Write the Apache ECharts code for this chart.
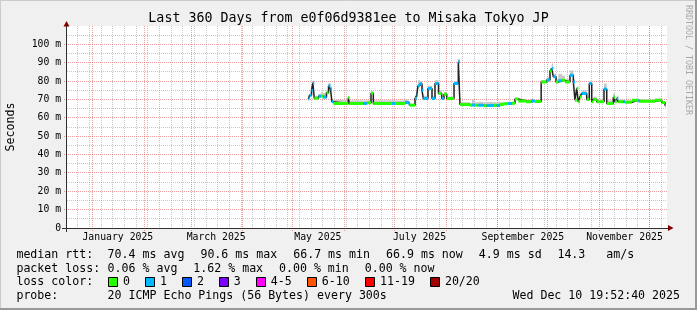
<!DOCTYPE html>
<html><head><meta charset="utf-8">
<script src="https://cdn.jsdelivr.net/npm/echarts@6/dist/echarts.min.js"></script>
<style>html,body{margin:0;padding:0;background:#f0f0f0}#c{width:697px;height:310px}</style>
</head><body><div id="c"></div>
<script>
// ---------- data ----------
const chartTitle = 'Last 360 Days from e0f06d9381ee to Misaka Tokyo JP';
const axisStart = '2024-12-16 12:00';
const axisEnd = '2025-12-11 12:00';
const dataEnd = '2025-12-10 19:52';

// start time of each median step (UTC)
const times = [
  '2025-05-10 07:00','2025-05-11 00:00','2025-05-12 05:00','2025-05-13 00:00','2025-05-13 21:00',
  '2025-05-16 10:00','2025-05-17 22:00','2025-05-19 07:00','2025-05-21 05:00','2025-05-22 10:00',
  '2025-05-23 14:00','2025-05-24 12:00','2025-05-25 10:00','2025-06-03 07:00','2025-06-03 21:00',
  '2025-06-12 07:00','2025-06-14 08:00','2025-06-16 22:00','2025-06-18 07:00','2025-06-29 12:00',
  '2025-07-01 07:00','2025-07-07 07:00','2025-07-09 10:00','2025-07-10 07:00','2025-07-13 07:00',
  '2025-07-14 08:00','2025-07-15 02:00','2025-07-16 07:00','2025-07-17 12:00','2025-07-18 07:00',
  '2025-07-21 02:00','2025-07-23 12:00','2025-07-25 07:00','2025-07-27 10:00','2025-07-29 08:00',
  '2025-07-30 17:00','2025-08-01 08:00','2025-08-05 17:00','2025-08-08 07:00','2025-08-09 07:00',
  '2025-08-15 07:00','2025-08-16 12:00','2025-08-18 07:00','2025-08-20 07:00','2025-08-23 07:00',
  '2025-08-25 08:00','2025-08-29 07:00','2025-08-31 08:00','2025-09-02 07:00','2025-09-04 07:00',
  '2025-09-07 02:00','2025-09-09 12:00','2025-09-11 07:00','2025-09-13 07:00','2025-09-17 22:00',
  '2025-09-20 22:00','2025-09-23 07:00','2025-09-27 00:00','2025-09-30 08:00','2025-10-02 07:00',
  '2025-10-03 08:00','2025-10-04 07:00','2025-10-05 22:00','2025-10-07 07:00','2025-10-09 12:00',
  '2025-10-11 07:00','2025-10-14 07:00','2025-10-16 07:00','2025-10-17 07:00','2025-10-18 08:00',
  '2025-10-19 07:00','2025-10-20 07:00','2025-10-21 08:00','2025-10-24 08:00','2025-10-25 21:00',
  '2025-10-27 08:00','2025-10-28 07:00','2025-10-30 08:00','2025-11-03 17:00','2025-11-05 08:00',
  '2025-11-09 07:00','2025-11-10 07:00','2025-11-11 08:00','2025-11-12 07:00','2025-11-15 07:00',
  '2025-11-16 07:00','2025-11-20 08:00','2025-11-24 07:00','2025-11-25 07:00','2025-11-29 08:00',
  '2025-12-04 07:00','2025-12-08 08:00','2025-12-10 07:00'
];
// median rtt (ms)
const median = [
  70.2,72.3,75.0,79.0,70.6, 71.8,71.8,71.2,73.6,77.5, 75.5,68.7,67.8,71.0,67.8,
  67.8,68.2,73.4,67.8,67.8, 67.8,68.4,67.5,66.9,70.5, 72.3,77.4,78.5,75.0,70.5,
  76.0,70.5,78.7,73.3,70.5, 72.8,70.5,78.7,90.6,67.3, 66.8,67.0,66.8,66.8,66.6,
  66.7,66.9,66.7,67.2,67.6, 67.8,67.9,70.2,69.2,68.7, 69.2,68.9,79.5,80.6,85.5,
  86.8,82.3,79.5,80.2,80.4, 79.5,83.2,79.5,69.6,76.0, 68.7,71.4,73.3,70.0,78.7,
  68.7,70.0,68.7,75.7,67.8, 71.4,68.7,70.5,68.7,68.7, 68.5,69.5,69.2,69.0,69.0,
  69.5,68.3,66.9
];
// packet-loss bucket index (0 = 0 lost, 1 = 1 lost, ...)
const lossBucket = [
  1,1,1,1,0, 1,0,1,0,1, 1,1,0,0,0,
  1,0,0,0,1, 0,1,1,0,1, 1,1,1,1,1,
  1,1,1,0,1, 0,0,1,1,0, 0,1,0,1,0,
  1,0,1,0,0, 1,0,0,0,0, 1,0,0,1,0,
  1,1,0,1,0, 0,1,1,0,0, 0,0,1,0,1,
  0,0,0,1,0, 0,0,1,0,1, 0,0,1,0,0,
  0,0,1
];
// top of the smoke (ms)
const smokeTop = [
  71.0,73.0,77.0,80.0,72.0, 73.0,74.0,73.5,75.0,79.0, 77.0,70.0,69.8,72.0,69.5,
  69.5,69.5,74.5,69.5,69.5, 69.5,70.0,69.0,67.8,72.0, 75.0,80.5,80.0,77.0,72.0,
  77.5,72.0,80.5,75.0,72.0, 74.0,71.5,80.0,92.0,68.5, 68.0,69.7,68.5,68.7,68.5,
  68.7,68.5,68.7,68.5,68.5, 68.7,68.5,70.8,70.0,69.5, 70.0,69.5,80.5,82.0,87.0,
  89.5,84.0,81.0,84.0,83.0, 81.0,85.8,81.0,71.0,77.0, 70.0,73.0,75.0,71.5,80.0,
  70.0,71.5,70.0,78.7,69.5, 73.3,70.0,72.0,70.0,70.0, 69.5,70.0,70.0,70.0,70.0,
  70.5,69.0,68.0
];

const lossLabels = ['0','1','2','3','4-5','6-10','11-19','20/20'];
const lossColors = ['#26ff00','#00b8ff','#0059ff','#7e00ff','#ff00ff','#ff5500','#ff0000','#a00000'];

const yMajor = [0,10,20,30,40,50,60,70,80,90,100];
const yMinor = [5,15,25,35,45,55,65,75,85,95,105];
const yMax = 110;
const monthStarts = ['2025-01-01','2025-02-01','2025-03-01','2025-04-01','2025-05-01','2025-06-01',
  '2025-07-01','2025-08-01','2025-09-01','2025-10-01','2025-11-01','2025-12-01'];
const monthLabelAt = ['2025-01-16','2025-03-16','2025-05-16','2025-07-16','2025-09-16','2025-11-16'];
const monthLabels = ['January 2025','March 2025','May 2025','July 2025','September 2025','November 2025'];
const firstWeek = '2024-12-23';

const statsRtt = ['median rtt:','70.4 ms avg','90.6 ms max','66.7 ms min','66.9 ms now','4.9 ms sd','14.3   am/s'];
const statsLoss = ['packet loss:','0.06 % avg','1.62 % max','0.00 % min','0.00 % now'];
const probeText = ['probe:','20 ICMP Echo Pings (56 Bytes) every 300s'];
const stampText = 'Wed Dec 10 19:52:40 2025';

// ---------- helpers ----------
function T(s){
  const [d, hm='00:00'] = s.split(' ');
  const [Y,M,D] = d.split('-').map(Number);
  const [h,m] = hm.split(':').map(Number);
  return Date.UTC(Y, M-1, D, h, m);
}
const DAY = 86400000;
const tArr = times.map(T);
const tEnd = T(dataEnd);
const t0 = T(axisStart), t1 = T(axisEnd);
const nextT = i => (i + 1 < tArr.length ? tArr[i+1] : tEnd);
const weekVals = [];
for (let t = T(firstWeek); t < t1; t += 7*DAY) weekVals.push(t);

const MONO = "'DejaVu Sans Mono', monospace";
const MGRID = 'rgba(222,80,80,0.55)';
const GRID = 'rgba(143,143,143,0.5)';

// grid lines drawn through the axes' scales
function vGrid(vals, color, ext, z) {
  return {type:'custom', coordinateSystem:'cartesian2d', silent:true, z, clip:false,
    data: vals.map(v => [v, 0]), encode:{x:0, y:1},
    renderItem: (params, api) => {
      const cs = params.coordSys;
      const x = Math.floor(api.coord([api.value(0), 0])[0]) + 0.5;
      return {type:'line', shape:{x1:x, y1:cs.y, x2:x, y2:cs.y + cs.height + ext},
        style:{stroke:color, lineWidth:1, lineDash:[1,1]}};
    }};
}
function hGrid(vals, color, ext, z) {
  return {type:'custom', coordinateSystem:'cartesian2d', silent:true, z, clip:false,
    data: vals.map(v => [t0, v]), encode:{x:0, y:1},
    renderItem: (params, api) => {
      const cs = params.coordSys;
      const y = Math.floor(api.coord([t0, api.value(1)])[1]) + 0.5;
      return {type:'line', shape:{x1:cs.x - ext, y1:y, x2:cs.x + cs.width, y2:y},
        style:{stroke:color, lineWidth:1, lineDash:[1,1]}};
    }};
}

// series
const lastM = median[median.length-1];
const smokeRects = tArr.map((t,i)=>[t, nextT(i), median[i]-0.4, smokeTop[i]]);
const medLine = tArr.map((t,i)=>[t, median[i]]).concat([[tEnd, lastM]]);

const series = [
  vGrid(weekVals, GRID, 0, 0),
  hGrid(yMinor, GRID, 0, 0),
  vGrid(monthStarts.map(T), MGRID, 3, 1),
  hGrid(yMajor, MGRID, 3, 1),
  {type:'custom', name:'smoke', coordinateSystem:'cartesian2d', silent:true, z:2,
   data:smokeRects, encode:{x:[0,1], y:[2,3]},
   renderItem: (params, api) => {
     const a = api.coord([api.value(0), api.value(3)]);
     const b = api.coord([api.value(1), api.value(2)]);
     return {type:'rect', shape:{x:a[0], y:a[1], width:b[0]-a[0], height:b[1]-a[1]},
       style:{fill:'#c9c9c9'}};
   }},
  {type:'line', name:'median', step:'end', data:medLine, symbol:'none', silent:true,
   lineStyle:{color:'#202020', width:1.5}, z:3}
];
lossColors.forEach((c, b) => {
  const d = [];
  for (let i = 0; i < tArr.length; i++) {
    if (lossBucket[i] === b) {
      d.push([tArr[i], median[i]], [nextT(i), median[i]], [nextT(i), null]);
    }
  }
  if (d.length) series.push({type:'line', name:lossLabels[b], data:d, symbol:'none', silent:true,
    connectNulls:false, lineStyle:{color:c, width:3, cap:'butt'}, z:4});
});

// graphic texts
const g = [];
const txt = (x, y, text, opt={}) => g.push({type:'text', x, y, silent:true, rotation: opt.rot||0, z:20,
  style:{text, font:(opt.size||11.6)+'px '+MONO, fill:opt.fill||'#000', align:opt.align||'left', verticalAlign:'middle'}});
// frame
g.push({type:'line', shape:{x1:0,y1:0.5,x2:697,y2:0.5}, style:{stroke:'#cbcbcb', lineWidth:1}, silent:true});
g.push({type:'line', shape:{x1:0.5,y1:0,x2:0.5,y2:310}, style:{stroke:'#cbcbcb', lineWidth:1}, silent:true});
g.push({type:'rect', shape:{x:695,y:0,width:2,height:310}, style:{fill:'#999999'}, silent:true});
g.push({type:'rect', shape:{x:0,y:308,width:697,height:2}, style:{fill:'#999999'}, silent:true});
// arrows & axis lines
g.push({type:'polygon', shape:{points:[[63.5,26.5],[69.5,26.5],[66.5,21]]}, style:{fill:'#7f0000'}, silent:true, z:10});
g.push({type:'polygon', shape:{points:[[668,225],[668,231],[673.5,228]]}, style:{fill:'#7f0000'}, silent:true, z:10});
g.push({type:'line', shape:{x1:62,y1:228.5,x2:668,y2:228.5}, style:{stroke:'#303030', lineWidth:1}, silent:true, z:9});
g.push({type:'line', shape:{x1:66.5,y1:232,x2:66.5,y2:26}, style:{stroke:'#303030', lineWidth:1}, silent:true, z:9});

txt(348.5, 19, chartTitle, {size:13.3, align:'center'});
txt(11, 127, 'Seconds', {size:11.6, align:'center', rot:Math.PI/2});
txt(688, 60, 'RRDTOOL / TOBI OETIKER', {size:8.3, align:'center', rot:-Math.PI/2, fill:'#a8a8a8'});

const rttX = [16.4,107.6,200.4,293.2,386.0,478.8,557.4];
statsRtt.forEach((s,i)=>txt(rttX[i], 254.5, s));
const lossX = [16.4,107.6,193.3,279,364.7];
statsLoss.forEach((s,i)=>txt(lossX[i], 268.5, s));
txt(16.4, 282, 'loss color:');
const boxX = [108,145,182,219,256,307,365,430];
const boxLabelX = [123,160,197,233.8,270.7,321.8,380,444.9];
lossLabels.forEach((s,i)=>{
  g.push({type:'rect', z:20, shape:{x:boxX[i]+0.5, y:277.5, width:9, height:9}, style:{fill:lossColors[i], stroke:'#000', lineWidth:1}, silent:true});
  txt(boxLabelX[i], 282, s);
});
txt(16.4, 296, probeText[0]);
txt(107.6, 296, probeText[1]);
txt(680, 296, stampText, {align:'right'});

const monthLabelVals = monthLabelAt.map(T);
const option = {
  animation: false,
  backgroundColor: '#f0f0f0',
  grid: {left:67, top:26, width:600, height:202, show:true, backgroundColor:'#ffffff', borderWidth:0},
  xAxis: {type:'value', min:t0, max:t1, position:'bottom', scale:true,
     axisLine:{show:false}, axisTick:{show:false}, splitLine:{show:false},
     axisLabel:{show:true, customValues: monthLabelVals, margin:4, hideOverlap:false,
       fontFamily:MONO, fontSize:9.8, color:'#000',
       formatter: v => { const k = monthLabelVals.indexOf(v); return k >= 0 ? monthLabels[k] : ''; }}},
  yAxis: {type:'value', min:0, max:yMax,
     axisLine:{show:false}, axisTick:{show:false}, splitLine:{show:false},
     axisLabel:{show:true, customValues:yMajor, margin:6, fontFamily:MONO, fontSize:9.75, color:'#000',
       formatter: v => v === 0 ? '0' : v + ' m'}},
  series: series.map(s => Object.assign({xAxisIndex:0, yAxisIndex:0, animation:false}, s)),
  graphic: g
};
const chart = echarts.init(document.getElementById('c'), null, {renderer:'canvas'});
chart.setOption(option);
</script></body></html>
